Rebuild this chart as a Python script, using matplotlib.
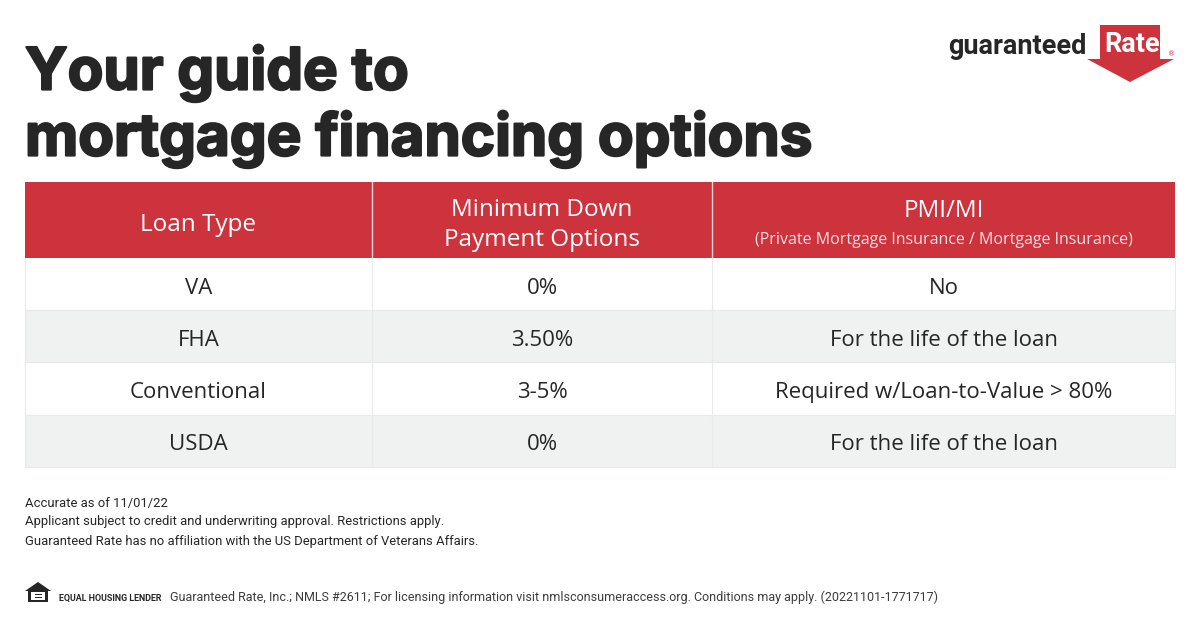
import matplotlib
matplotlib.use("Agg")
import matplotlib.pyplot as plt
import matplotlib.patheffects as pe
from matplotlib.patches import Rectangle, Polygon

title_lines = ["Your guide to", "mortgage financing options"]
col_edges = [25, 372, 712, 1175]
row_edges = [182, 258, 310, 362, 415, 467]
header_cols = ["Loan Type", "Minimum Down", "Payment Options", "PMI/MI"]
header_sub = "(Private Mortgage Insurance / Mortgage Insurance)"
loan_types = ["VA", "FHA", "Conventional", "USDA"]
down_payments = ["0%", "3.50%", "3-5%", "0%"]
pmi = ["No", "For the life of the loan", "Required w/Loan-to-Value > 80%", "For the life of the loan"]
notes = ["Accurate as of 11/01/22",
         "Applicant subject to credit and underwriting approval. Restrictions apply.",
         "Guaranteed Rate has no affiliation with the US Department of Veterans Affairs."]
legal = "Guaranteed Rate, Inc.; NMLS #2611; For licensing information visit nmlsconsumeraccess.org. Conditions may apply. (20221101-1771717)"

RED = "#cc333d"
INK = "#262626"
GREY = "#f0f1f1"
LINE = "#e8e9e9"
FONT = "Open Sans"
SMALL = "Roboto"

fig = plt.figure(figsize=(12, 6.28), dpi=100, facecolor="white")
ax = fig.add_axes([0, 0, 1, 1])
ax.set_xlim(0, 1200)
ax.set_ylim(628, 0)
ax.axis("off")

# title
fat = [pe.withStroke(linewidth=1.6, foreground=INK)]
ax.text(25, 73, title_lines[0], fontsize=42, fontweight="bold", family="Inter", color=INK,
        va="center", ha="left", path_effects=fat)
ax.text(25, 139, title_lines[1], fontsize=42, fontweight="bold", family="Inter", color=INK,
        va="center", ha="left", path_effects=fat)

# table
ax.add_patch(Rectangle((col_edges[0], row_edges[0]), col_edges[-1]-col_edges[0], row_edges[1]-row_edges[0], fc=RED, ec="none"))
for i in range(len(loan_types)):
    y0, y1 = row_edges[i+1], row_edges[i+2]
    ax.add_patch(Rectangle((col_edges[0], y0), col_edges[-1]-col_edges[0], y1-y0,
                           fc=(GREY if i % 2 else "white"), ec="none"))
    ax.plot([col_edges[0], col_edges[-1]], [y1, y1], color=LINE, lw=0.8)
ax.plot([col_edges[0]]*2, [row_edges[1], row_edges[-1]], color=LINE, lw=0.8)
ax.plot([col_edges[-1]]*2, [row_edges[1], row_edges[-1]], color=LINE, lw=0.8)
for x in col_edges[1:-1]:
    ax.plot([x, x], [row_edges[1], row_edges[-1]], color=LINE, lw=0.8)
    ax.plot([x, x], [row_edges[0], row_edges[1]], color="#f3d3d5", lw=1.0)

centers = [(col_edges[i]+col_edges[i+1])/2 for i in range(3)]
ax.text(centers[0], 225, header_cols[0], fontsize=17.5, color="white", family=FONT, ha="center", va="center")
ax.text(centers[1], 210, header_cols[1], fontsize=17.5, color="white", family=FONT, ha="center", va="center")
ax.text(centers[1], 240, header_cols[2], fontsize=17.5, color="white", family=FONT, ha="center", va="center")
ax.text(centers[2], 211, header_cols[3], fontsize=17.5, color="white", family=FONT, ha="center", va="center")
ax.text(centers[2], 240, header_sub, fontsize=11.5, color="#f6dfe0", family=FONT, ha="center", va="center")

for i, row in enumerate(zip(loan_types, down_payments, pmi)):
    y = (row_edges[i+1]+row_edges[i+2])/2 + 4
    for c, s in zip(centers, row):
        ax.text(c, y, s, fontsize=16, color=INK, family=FONT, ha="center", va="center")

# notes
for s, y in zip(notes, [503, 522, 541]):
    ax.text(25, y, s, fontsize=9.4, color=INK, family=SMALL, va="center", ha="left")

# equal housing lender icon
ax.add_patch(Polygon([(25, 591), (38, 582), (51, 591)], closed=True, fc=INK, ec="none"))
ax.add_patch(Rectangle((28, 590), 20, 12, fc=INK, ec="none"))
ax.add_patch(Rectangle((31, 592), 14, 8, fc="white", ec="none"))
ax.add_patch(Rectangle((35, 593.5), 7, 1.5, fc=INK, ec="none"))
ax.add_patch(Rectangle((35, 596.5), 7, 1.5, fc=INK, ec="none"))
ax.text(59, 598, "EQUAL HOUSING LENDER", fontsize=6.4, fontweight="bold", color=INK, family=SMALL, va="center", ha="left")
ax.text(170, 597, legal, fontsize=9.0, color="#3c3c3c", family=SMALL, va="center", ha="left")

# logo
ax.add_patch(Polygon([(1100, 25), (1160, 25), (1160, 59), (1174, 59), (1130, 82), (1087, 59), (1100, 59)], closed=True, fc=RED, ec="none"))
ax.text(1104, 44, "Rate", fontsize=19.5, fontweight="bold", color="white", family=SMALL, va="center", ha="left")
ax.text(948, 47, "guaranteed", fontsize=19.5, fontweight="bold", color=INK, family=SMALL, va="center", ha="left")
ax.text(1172, 54, "®", fontsize=5, color=RED, family="DejaVu Sans", va="center", ha="center")

fig.savefig("out.png", dpi=100, facecolor="white")
